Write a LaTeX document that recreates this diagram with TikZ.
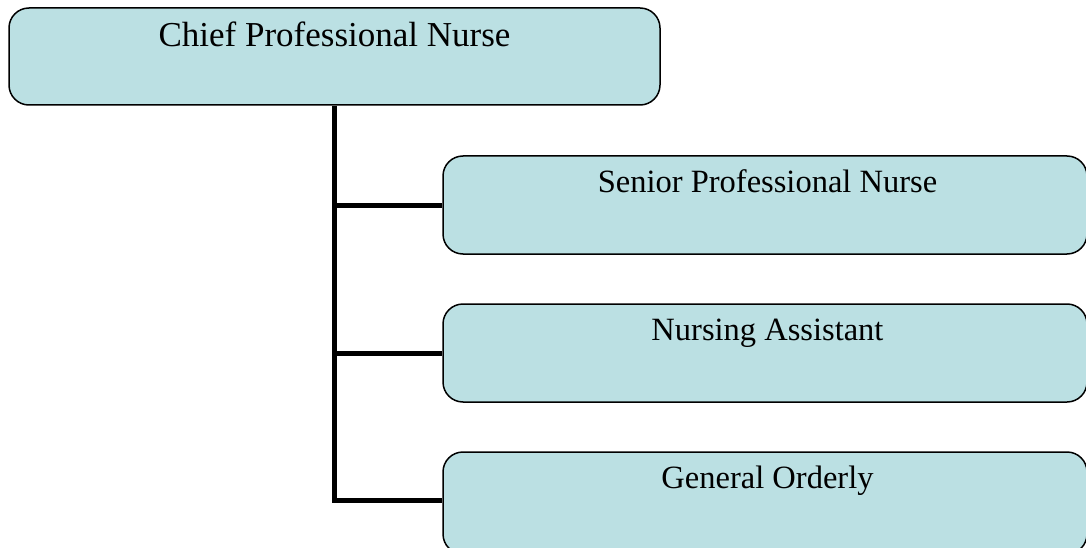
\documentclass[tikz,border=0pt]{standalone}
\usepackage{fontspec}
\setmainfont{Liberation Serif}
\definecolor{boxfill}{HTML}{BBE0E3}
\tikzset{
  orgbox/.style={draw=black, line width=1.5pt, fill=boxfill, rounded corners=20pt, inner sep=0pt},
  conn/.style={draw=black, line width=5pt, line join=miter},
  toptext/.style={anchor=base, inner sep=0pt, font=\fontsize{35}{40}\selectfont},
  subtext/.style={anchor=base, inner sep=0pt, font=\fontsize{32.5}{38}\selectfont},
}
\begin{document}
\begin{tikzpicture}[x=1pt,y=-1pt]
\useasboundingbox (0,0) rectangle (1086,548);
\begin{scope}
\clip (0,0) rectangle (1086,548);
\node[orgbox, minimum width=651pt, minimum height=97pt] (chief) at (334.5,56.5) {};
\node[orgbox, minimum width=644pt, minimum height=98pt] (b2) at (765,205) {};
\node[orgbox, minimum width=644pt, minimum height=98pt] (b3) at (765,353) {};
\node[orgbox, minimum width=644pt, minimum height=102pt] (b4) at (765,503) {};
\coordinate (b4joint) at ([yshift=3pt]b4.west);
\draw[conn] (chief.south) |- (b4joint);
\draw[conn] (chief.south |- b2.west) -- (b2.west);
\draw[conn] (chief.south |- b3.west) -- (b3.west);
\end{scope}
\node[toptext] (t1) at (334.5,47) {Chief Professional Nurse};
\node[subtext] (t2) at (767.5,192.5) {Senior Professional Nurse};
\node[subtext] (t3) at (767.5,340.5) {Nursing Assistant};
\node[subtext] (t4) at (767.5,488.5) {General Orderly};
\end{tikzpicture}
\end{document}
